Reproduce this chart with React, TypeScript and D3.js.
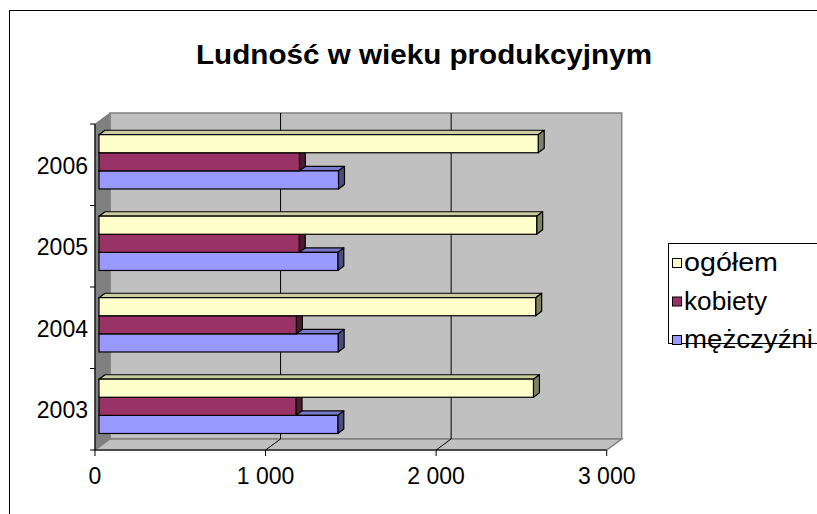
import React from "react";
import * as d3 from "d3";

const categories = ["2003", "2004", "2005", "2006"];
const seriesNames = ["ogółem", "kobiety", "mężczyźni"];
const ogolem = [2547, 2560, 2566, 2575];
const kobiety = [1155, 1157, 1174, 1175];
const mezczyzni = [1400, 1402, 1400, 1404];
const xTicks = [0, 1000, 2000, 3000];
const xTickLabels = ["0", "1 000", "2 000", "3 000"];

const W = 817;
const H = 514;
const DX = 15;
const DY = -11;
const FA = 0.267;
const FB = 0.667;

const colors = [
  { front: "#FFFFCC", top: "#CCCCA3", side: "#808066" },
  { front: "#993366", top: "#7A2952", side: "#4D1933" },
  { front: "#9999FF", top: "#7A7ACC", side: "#4D4D80" },
];

export default function App() {
  const x = d3.scaleLinear().domain([0, 3000]).range([95, 606.7]);
  const y = d3
    .scaleBand<string>()
    .domain([...categories].reverse())
    .range([124, 450])
    .paddingInner(0)
    .paddingOuter(0);
  const bw = y.bandwidth();
  const barH = bw / 4.5;
  const inner = d3
    .scaleBand<string>()
    .domain(seriesNames)
    .range([barH * 0.75, barH * 3.75]);

  const data = [ogolem, kobiety, mezczyzni];
  const fx = FA * DX;
  const fy = FA * DY;
  const bdx = (FB - FA) * DX;
  const bdy = (FB - FA) * DY;

  const x0 = x(0);
  const x3 = x(3000);
  const yT = y.range()[0];
  const yB = y.range()[1];

  const bars: React.ReactNode[] = [];
  categories.forEach((cat, ci) => {
    [2, 1, 0].forEach((si) => {
      const v = data[si][ci];
      const xl = x(0) + fx;
      const xr = x(v) + fx;
      const yt = (y(cat) as number) + (inner(seriesNames[si]) as number) + fy;
      const yb = yt + barH;
      const c = colors[si];
      const topPts = [
        [xl, yt],
        [xr, yt],
        [xr + bdx, yt + bdy],
        [xl + bdx, yt + bdy],
      ];
      const sidePts = [
        [xr, yt],
        [xr + bdx, yt + bdy],
        [xr + bdx, yb + bdy],
        [xr, yb],
      ];
      bars.push(
        <g key={cat + si}>
          <polygon
            points={topPts.map((p) => p.join(",")).join(" ")}
            fill={c.top}
            stroke="#000"
            strokeWidth={1.2}
            strokeLinejoin="round"
          />
          <polygon
            points={sidePts.map((p) => p.join(",")).join(" ")}
            fill={c.side}
            stroke="#000"
            strokeWidth={1.2}
            strokeLinejoin="round"
          />
          <rect
            x={xl}
            y={yt}
            width={xr - xl}
            height={barH}
            fill={c.front}
            stroke="#000"
            strokeWidth={1.2}
          />
        </g>
      );
    });
  });

  const pts = (a: number[][]) => a.map((p) => p.join(",")).join(" ");
  const font = "'Liberation Sans', Arial, sans-serif";

  return (
    <div style={{ position: "fixed", left: 0, top: 0 }}>
      <svg width={W} height={H} style={{ display: "block", background: "#fff" }}>
        <rect x={0} y={0} width={W} height={H} fill="#fff" />
        <rect x={9.5} y={10.5} width={W + 20} height={H + 20} fill="none" stroke="#000" strokeWidth={1} />
        <text
          x={424}
          y={64}
          textAnchor="middle"
          fontFamily={font}
          fontWeight="bold"
          fontSize={28.5}
          textLength={456}
          lengthAdjust="spacingAndGlyphs"
        >
          Ludność w wieku produkcyjnym
        </text>

        <polygon
          points={pts([
            [x0 + DX, yT + DY],
            [x3 + DX, yT + DY],
            [x3 + DX, yB + DY],
            [x0 + DX, yB + DY],
          ])}
          fill="#C0C0C0"
          stroke="#808080"
          strokeWidth={1.5}
        />
        <polygon
          points={pts([
            [x0, yT],
            [x0 + DX, yT + DY],
            [x0 + DX, yB + DY],
            [x0, yB],
          ])}
          fill="#808080"
          stroke="#808080"
          strokeWidth={1}
        />
        <polygon
          points={pts([
            [x0, yB],
            [x3, yB],
            [x3 + DX, yB + DY],
            [x0 + DX, yB + DY],
          ])}
          fill="#C0C0C0"
          stroke="#808080"
          strokeWidth={1.5}
        />
        {xTicks
          .filter((t) => t > 0 && t < 3000)
          .map((t) => (
            <g key={"g" + t}>
              <line x1={x(t) + DX} x2={x(t) + DX} y1={yT + DY} y2={yB + DY} stroke="#000" strokeWidth={1} />
              <line x1={x(t)} x2={x(t) + DX} y1={yB} y2={yB + DY} stroke="#000" strokeWidth={1} />
            </g>
          ))}

        {bars}

        <line x1={x0} x2={x0} y1={yT} y2={yB} stroke="#000" strokeWidth={1.2} />
        <line x1={x0} x2={x3} y1={yB} y2={yB} stroke="#000" strokeWidth={1.2} />
        {[...y.domain().map((c) => y(c) as number), yB].map((yy, i) => (
          <line key={"yt" + i} x1={x0 - 5} x2={x0} y1={yy} y2={yy} stroke="#000" strokeWidth={1} />
        ))}
        {xTicks.map((t, i) => (
          <g key={"xt" + t}>
            <line x1={x(t)} x2={x(t)} y1={yB} y2={yB + 6} stroke="#000" strokeWidth={1} />
            <text x={x(t)} y={484} textAnchor="middle" fontFamily={font} fontSize={23}>
              {xTickLabels[i]}
            </text>
          </g>
        ))}
        {categories.map((c) => (
          <text
            key={"yl" + c}
            x={88}
            y={(y(c) as number) + bw / 2 + 9}
            textAnchor="end"
            fontFamily={font}
            fontSize={23}
          >
            {c}
          </text>
        ))}

        <rect x={668.5} y={243.5} width={200} height={100} fill="#fff" stroke="#000" strokeWidth={1} />
        {seriesNames.map((s, i) => {
          const cy = 263 + i * 38.5;
          const lens = [94, 83, 129];
          return (
            <g key={"lg" + s}>
              <rect x={672.5} y={cy - 4.5} width={9} height={9} fill={colors[i].front} stroke="#000" strokeWidth={1} />
              <text
                x={684}
                y={cy + 8}
                fontFamily={font}
                fontSize={26}
                textLength={lens[i]}
                lengthAdjust="spacingAndGlyphs"
              >
                {s}
              </text>
            </g>
          );
        })}
      </svg>
    </div>
  );
}
